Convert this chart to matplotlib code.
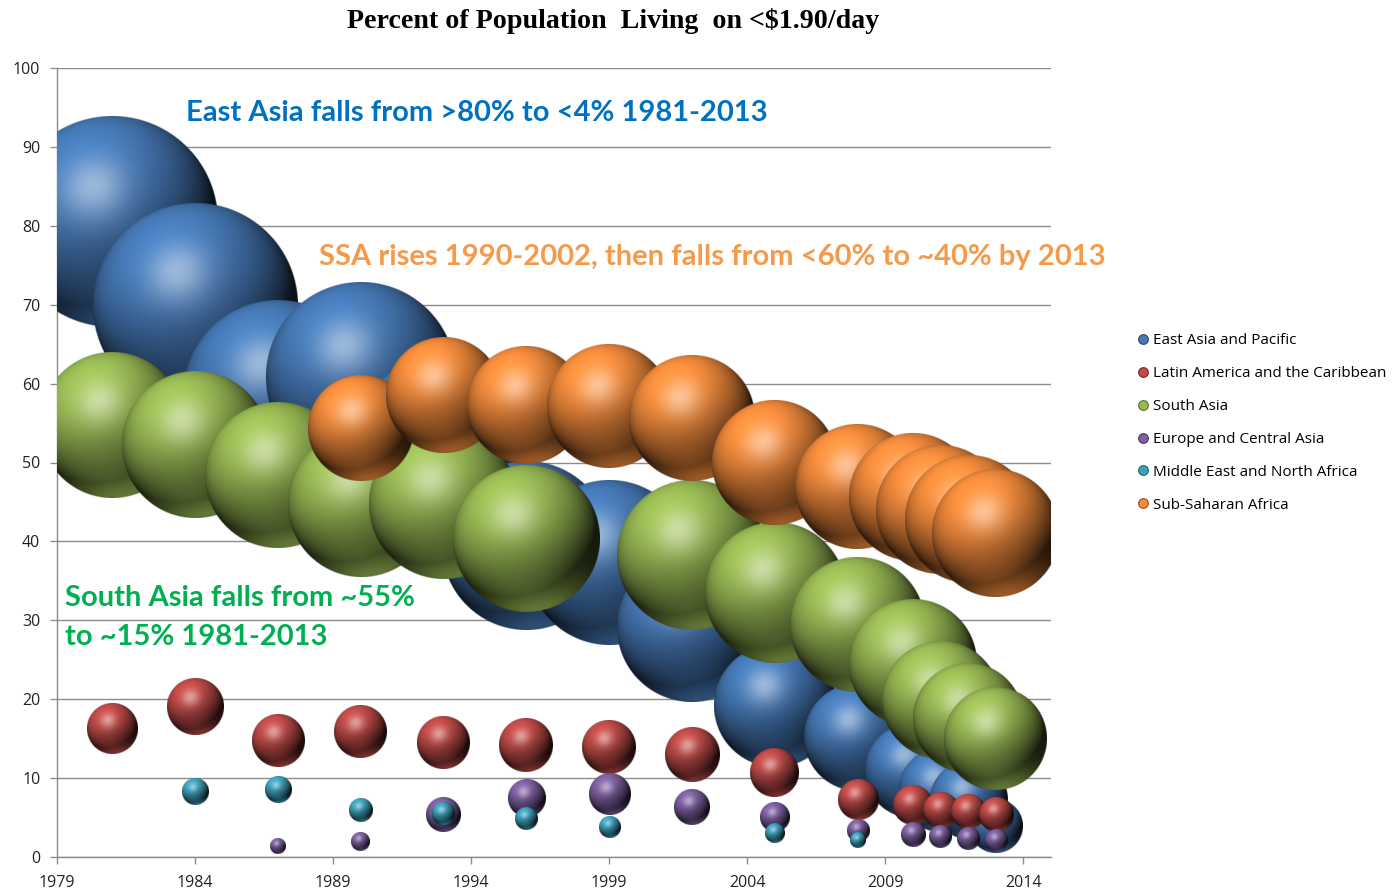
import numpy as np
import matplotlib
matplotlib.use("Agg")
import matplotlib.pyplot as plt
import matplotlib.colors as mcolors
from matplotlib.lines import Line2D

# ---------------- data ----------------
years = [1981, 1984, 1987, 1990, 1993, 1996, 1999, 2002, 2005, 2008, 2010, 2011, 2012, 2013]
regions = ["East Asia and Pacific", "Latin America and the Caribbean", "South Asia",
           "Europe and Central Asia", "Middle East and North Africa", "Sub-Saharan Africa"]

# percent of population below $1.90/day (None = no estimate)
eap_pct = [80.6, 69.9, 58.6, 60.8, 51.7, 39.4, 37.3, 29.1, 19.1, 15.2, 11.0, 8.5, 7.2, 3.9]
lac_pct = [16.3, 19.0, 14.7, 15.9, 14.5, 14.2, 13.9, 13.0, 10.7, 7.2, 6.6, 6.0, 5.7, 5.4]
sa_pct = [54.7, 52.2, 48.3, 44.7, 44.8, 40.3, None, 38.3, 33.5, 29.4, 24.6, 19.9, 17.6, 15.0]
eca_pct = [None, None, 1.3, 1.9, 5.4, 7.4, 7.9, 6.3, 5.0, 3.3, 2.8, 2.6, 2.3, 2.0]
mena_pct = [None, 8.3, 8.5, 6.0, 5.5, 4.9, 3.8, None, 3.0, 2.1, None, None, None, None]
ssa_pct = [None, None, None, 54.3, 58.5, 57.3, 57.2, 55.6, 50.0, 47.0, 45.6, 44.0, 42.8, 41.0]

# bubble size: number of poor (millions)
eap_poor = [1100, 1030, 890, 892, 864, 698, 673, 556, 368, 288, 223, 174, 147, 72]
lac_poor = [64, 78, 67, 69, 69, 72, 72, 74, 59, 40, 38, 32, 29, 29]
sa_poor = [520, 527, 520, 527, 556, 527, None, 556, 485, 450, 405, 344, 299, 262]
eca_poor = [None, None, 5.6, 8.9, 30, 34, 42, 32, 22, 12, 15, 13, 13, 12]
mena_poor = [None, 17, 17, 14, 13, 13, 11, None, 9, 6.3, None, None, None, None]
ssa_poor = [None, None, None, 273, 327, 344, 380, 392, 386, 386, 405, 410, 400, 399]

colors = ["#4679B6", "#BE4B48", "#98B954", "#7D60A0", "#3FA2BC", "#F38B3C"]

series_pct = [eap_pct, lac_pct, sa_pct, eca_pct, mena_pct, ssa_pct]
series_poor = [eap_poor, lac_poor, sa_poor, eca_poor, mena_poor, ssa_poor]

x_ticks = list(range(1979, 2015, 5))
y_ticks = list(range(0, 101, 10))

# ---------------- figure ----------------
W, H, DPI = 1397, 890, 100
fig = plt.figure(figsize=(W / DPI, H / DPI), dpi=DPI)
ax_l, ax_r, ax_t, ax_b = 57, 1051, 68, 857
ax = fig.add_axes([ax_l / W, (H - ax_b) / H, (ax_r - ax_l) / W, (ax_b - ax_t) / H])
XMIN, XMAX, YMIN, YMAX = 1979, 2015, 0, 100
px_per_x = (ax_r - ax_l) / (XMAX - XMIN)
px_per_y = (ax_b - ax_t) / (YMAX - YMIN)
K = 6.36  # bubble diameter in px per sqrt(million)


def sphere_rgba(color, npx):
    base = np.array(mcolors.to_rgb(color))
    t = (np.arange(npx) + 0.5) / npx * 2 - 1
    u, v = np.meshgrid(t, -t)
    rho = np.sqrt(u * u + v * v)
    z = np.sqrt(np.clip(1 - rho * rho, 0, None))
    L = np.array([-0.33, 0.61, 0.72]); L /= np.linalg.norm(L)
    diff = np.clip(u * L[0] + v * L[1] + z * L[2], 0, 1)
    Hh = L + np.array([0, 0, 1.0]); Hh /= np.linalg.norm(Hh)
    spec = np.clip(u * Hh[0] + v * Hh[1] + z * Hh[2], 0, 1) ** 22
    R = np.array([0.15, -0.95, 0.25]); R /= np.linalg.norm(R)
    refl = np.clip(u * R[0] + v * R[1] + z * R[2], 0, 1) ** 4
    col = base[None, None, :] * (0.14 + 0.96 * diff)[..., None]
    col = col + base[None, None, :] * 0.5 * refl[..., None]
    col = col + (1 - col) * (0.45 * spec)[..., None]
    col = np.clip(col, 0, 1)
    alpha = np.clip((1 - rho) * npx / 2 + 0.5, 0, 1)
    return np.dstack([col, alpha])


z = 2
for pct, poor, c in zip(series_pct, series_poor, colors):
    for yr, p, s in zip(years, pct, poor):
        if p is None or s is None:
            continue
        d_px = K * np.sqrt(s)
        rx = d_px / 2 / px_per_x
        ry = d_px / 2 / px_per_y
        npx = max(24, int(d_px * 1.5))
        ax.imshow(sphere_rgba(c, npx), extent=(yr - rx, yr + rx, p - ry, p + ry),
                  origin="upper", interpolation="bilinear", aspect="auto", zorder=z)
        z += 1

ax.set_xlim(XMIN, XMAX)
ax.set_ylim(YMIN, YMAX)
ax.set_xticks(x_ticks)
ax.set_yticks(y_ticks)
ax.grid(axis="y", color="#8C8C8C", linewidth=1.0)
ax.set_axisbelow(True)
for sp in ["top", "right"]:
    ax.spines[sp].set_visible(False)
for sp in ["left", "bottom"]:
    ax.spines[sp].set_color("#8C8C8C")
    ax.spines[sp].set_linewidth(1.0)
    ax.spines[sp].set_zorder(0.6)
ax.tick_params(axis="both", colors="#8C8C8C", length=5, width=1.0, labelcolor="#222222",
               labelsize=11.5)
ax.tick_params(axis="y", pad=7)
ax.tick_params(axis="x", pad=8)
for lab in ax.get_xticklabels() + ax.get_yticklabels():
    lab.set_fontfamily("Open Sans")

# title
fig.text(613 / W, 1 - 21 / H, "Percent of Population  Living  on <$1.90/day",
         ha="center", va="center", fontsize=20.2, fontweight="bold",
         family="Liberation Serif", color="black")

# annotations
ann_font = dict(family="Lato", fontweight="bold", fontsize=21, zorder=200)
ax.text(1983.67, 94.3, "East Asia falls from >80% to <4% 1981-2013", color="#0070C0",
        ha="left", va="center", **ann_font)
ax.text(1988.49, 76.0, "SSA rises 1990-2002, then falls from <60% to ~40% by 2013",
        color="#F59A4A", ha="left", va="center", **ann_font)
ax.text(1979.29, 32.8, "South Asia falls from ~55%", color="#00B050",
        ha="left", va="center", **ann_font)
ax.text(1979.29, 27.85, "to ~15% 1981-2013", color="#00B050",
        ha="left", va="center", **ann_font)

# legend
handles = [Line2D([], [], marker="o", linestyle="None", markersize=7,
                  markerfacecolor=c, markeredgecolor=tuple(np.array(mcolors.to_rgb(c)) * 0.6),
                  markeredgewidth=0.8) for c in colors]
fig.legend(handles, regions, loc="center left", bbox_to_anchor=(1132 / W, 1 - 423 / H),
           frameon=False, prop={"family": "Open Sans", "size": 11},
           handlelength=0.7, handletextpad=0.3, labelspacing=1.17, borderaxespad=0)

fig.savefig("out.png", dpi=DPI)
